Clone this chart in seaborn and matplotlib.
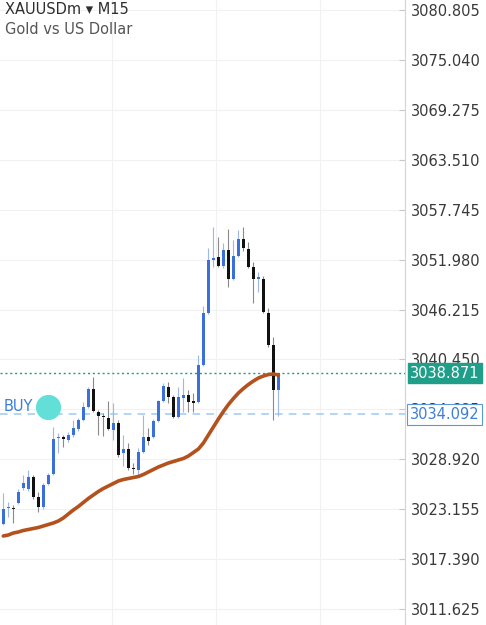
import numpy as np
import pandas as pd
import seaborn as sns
import matplotlib
matplotlib.use("Agg")
import matplotlib.pyplot as plt

# candles XAUUSDm M15
opens = [3021.445, 3023.292, 3023.235, 3023.870, 3025.602, 3025.487, 3026.873, 3024.563, 3023.408, 3026.064,
         3027.219, 3031.319, 3031.492, 3031.146, 3031.723, 3032.416, 3033.455, 3034.957, 3037.035, 3034.379,
         3033.918, 3033.686, 3032.300, 3033.109, 3029.644, 3030.106, 3027.912, 3027.681, 3029.760, 3031.492,
         3031.492, 3033.340, 3035.650, 3037.266, 3036.112, 3033.802, 3035.996, 3036.343, 3035.592, 3035.534,
         3039.807, 3045.812, 3051.933, 3052.280, 3051.240, 3053.088, 3049.739, 3052.395, 3054.358, 3053.204,
         3051.125, 3049.739, 3049.739, 3045.812, 3042.117, 3036.920]
highs = [3025.025, 3023.985, 3023.639, 3025.487, 3027.104, 3027.681, 3027.104, 3025.140, 3026.180, 3027.335,
         3032.647, 3031.954, 3031.723, 3032.069, 3033.455, 3033.686, 3035.534, 3037.266, 3038.421, 3034.610,
         3034.264, 3035.650, 3035.419, 3033.455, 3031.723, 3030.799, 3028.489, 3030.222, 3034.033, 3032.531,
         3033.571, 3035.765, 3037.728, 3037.844, 3036.343, 3037.266, 3038.306, 3036.920, 3036.573, 3040.962,
         3046.621, 3053.319, 3055.744, 3054.589, 3053.897, 3055.513, 3054.243, 3055.398, 3055.744, 3054.012,
         3051.702, 3050.547, 3050.085, 3046.390, 3043.041, 3038.871]
lows = [3021.329, 3022.253, 3021.560, 3023.754, 3025.371, 3025.256, 3024.332, 3022.831, 3023.177, 3025.949,
        3027.104, 3029.644, 3030.337, 3030.915, 3031.492, 3032.185, 3033.340, 3034.841, 3034.379, 3031.723,
        3031.608, 3032.300, 3031.146, 3029.182, 3028.143, 3027.681, 3027.219, 3027.104, 3029.644, 3030.568,
        3031.377, 3033.224, 3035.534, 3035.419, 3033.686, 3033.686, 3034.379, 3034.379, 3034.379, 3035.419,
        3039.692, 3045.697, 3051.125, 3051.125, 3051.009, 3048.815, 3049.624, 3052.280, 3052.973, 3051.009,
        3046.967, 3048.238, 3045.812, 3041.886, 3033.455, 3033.918]
closes = [3023.177, 3023.408, 3023.119, 3025.140, 3026.180, 3026.873, 3024.563, 3023.408, 3025.949, 3027.104,
          3031.261, 3031.492, 3031.261, 3031.723, 3032.531, 3033.455, 3034.957, 3037.035, 3034.495, 3033.918,
          3033.744, 3032.416, 3033.109, 3029.413, 3030.106, 3027.912, 3027.739, 3029.760, 3031.492, 3031.030,
          3033.340, 3035.650, 3037.382, 3036.112, 3033.802, 3036.112, 3036.343, 3035.534, 3035.476, 3039.807,
          3045.812, 3051.933, 3052.164, 3051.240, 3053.088, 3049.739, 3052.395, 3054.358, 3053.319, 3051.125,
          3049.739, 3049.970, 3045.928, 3042.117, 3036.920, 3038.871]
# moving average line
ma = [3020.059, 3020.174, 3020.405, 3020.521, 3020.694, 3020.809, 3020.925, 3021.040, 3021.214, 3021.387,
      3021.560, 3021.791, 3022.138, 3022.600, 3023.061, 3023.466, 3023.928, 3024.390, 3024.794, 3025.198,
      3025.544, 3025.833, 3026.122, 3026.411, 3026.584, 3026.699, 3026.815, 3026.930, 3027.161, 3027.450,
      3027.739, 3028.027, 3028.258, 3028.489, 3028.663, 3028.836, 3029.009, 3029.298, 3029.702, 3030.106,
      3030.799, 3031.723, 3032.647, 3033.571, 3034.437, 3035.245, 3035.938, 3036.573, 3037.093, 3037.555,
      3037.959, 3038.306, 3038.537, 3038.710, 3038.768, 3038.652]

tick_labels = ["3080.805", "3075.040", "3069.275", "3063.510", "3057.745", "3051.980", "3046.215",
               "3040.450", "3034.685", "3028.920", "3023.155", "3017.390", "3011.625"]
bid_price = 3038.871
order_price = 3034.092
buy_index = 9
buy_price = 3034.957

df = pd.DataFrame({"o": opens, "h": highs, "l": lows, "c": closes, "ma": ma})
df["i"] = np.arange(len(df))
df["up"] = df["c"] >= df["o"]

bull = "#3b6fd9"
bear = "#111111"

sns.set_style("white")
plt.rcParams["font.family"] = ["DejaVu Sans"]

fig = plt.figure(figsize=(4.86, 6.25), dpi=100)
ax = fig.add_axes([0, 0, 405 / 486, 1])

# grid
for v in tick_labels:
    ax.axhline(float(v), color="#f1f1f1", lw=0.8, zorder=0)
for gx in [21.74, 42.54, 63.34]:
    ax.axvline(gx, color="#f1f1f1", lw=0.8, zorder=0)

# wicks
wick_cols = np.where(df["up"], "#9fb6ea", "#8a8a8a")
ax.vlines(df["i"], df["l"], df["h"], colors=wick_cols, lw=0.8, zorder=2)

# bodies
body_bottom = np.minimum(df["o"], df["c"])
body_h = np.maximum((df["c"] - df["o"]).abs(), 0.13)
ax.bar(df["i"], body_h, bottom=body_bottom, width=0.6,
       color=np.where(df["up"], bull, bear), linewidth=0, zorder=3)

# moving average
sns.lineplot(data=df, x="i", y="ma", color="#b3521d", lw=2.6, ax=ax, zorder=4)

# price lines
ax.axhline(bid_price, color="#1d9c86", lw=1.0, ls=(0, (1.5, 2)), zorder=1)
ax.axhline(order_price, color="#9ccaf0", lw=1.1, ls=(0, (5, 4)), zorder=1)

# BUY marker
ax.scatter([buy_index], [buy_price], s=330, color="#62e0d8", zorder=5, linewidths=0)
ax.text(0.01, buy_price, "BUY", color="#3d7fd8", fontsize=10.5,
        ha="left", va="center", zorder=5, transform=ax.get_yaxis_transform())

ax.set_xlim(-0.66, 80.3)
ax.set_ylim(3009.78, 3081.96)
ax.set_xticks([])
ax.yaxis.tick_right()
ax.set_yticks([float(v) for v in tick_labels])
ax.set_yticklabels(tick_labels)
ax.tick_params(axis="y", direction="in", length=4, width=0.8, color="#c8c8c8",
               pad=4, labelsize=10.5, labelcolor="#3a3a3a")
ax.set_xlabel("")
ax.set_ylabel("")
for s in ["top", "left", "bottom"]:
    ax.spines[s].set_visible(False)
ax.spines["right"].set_color("#d4d4d4")
ax.spines["right"].set_linewidth(0.8)

# price tags on the axis
tr = ax.get_yaxis_transform()
ax.text(1.012, bid_price, f"{bid_price:.3f}", transform=tr, color="white", fontsize=10.5,
        ha="left", va="center", clip_on=False, zorder=10,
        bbox=dict(boxstyle="square,pad=0.15", fc="#1f9e89", ec="#1f9e89"))
ax.text(1.012, order_price, f"{order_price:.3f}", transform=tr, color="#3d7fd8", fontsize=10.5,
        ha="left", va="center", clip_on=False, zorder=10,
        bbox=dict(boxstyle="square,pad=0.2", fc="white", ec="#5b97dd", lw=0.8))

# symbol header
fig.text(5 / 486, 1 - 2 / 625, "XAUUSDm \u25be M15", fontsize=10.5, color="#2e2e2e",
         ha="left", va="top")
fig.text(5 / 486, 1 - 22 / 625, "Gold vs US Dollar", fontsize=10.5, color="#555555",
         ha="left", va="top")

fig.savefig("out.png", dpi=100, facecolor="white")
